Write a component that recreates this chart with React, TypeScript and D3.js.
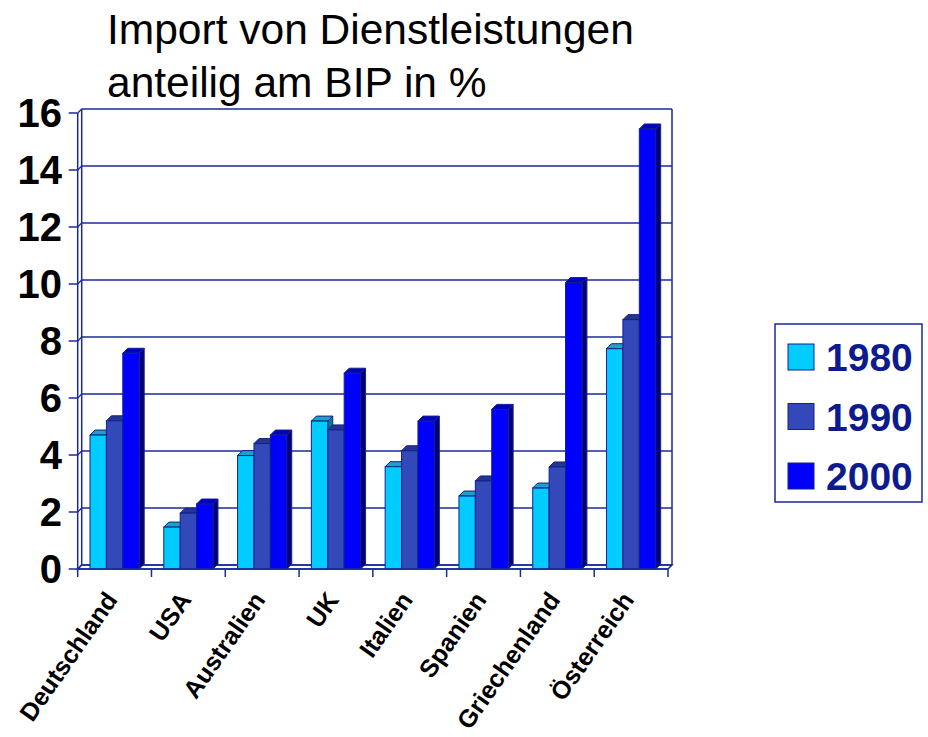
import React from "react";
import * as d3 from "d3";

const categories = ["Deutschland", "USA", "Australien", "UK", "Italien", "Spanien", "Griechenland", "Österreich"];
const years = ["1980", "1990", "2000"];
const values1980 = [4.7, 1.47, 3.98, 5.19, 3.59, 2.56, 2.84, 7.73];
const values1990 = [5.2, 1.96, 4.4, 4.88, 4.15, 3.09, 3.58, 8.75];
const values2000 = [7.57, 2.28, 4.7, 6.87, 5.19, 5.6, 10.05, 15.44];
const yTicks = [0, 2, 4, 6, 8, 10, 12, 14, 16];
const titleLines = ["Import von Dienstleistungen", "anteilig am BIP in %"];

const seriesValues = [values1980, values1990, values2000];
const frontColors = ["#00CCFF", "#3349B9", "#0000FF"];
const topColors = ["#1AA3C8", "#24358F", "#0000C8"];
const sideColors = ["#00799A", "#1A2670", "#00007A"];
const lineColor = "#1a2a9c";
const outline = "#14208a";
const font = "'Liberation Sans', Arial, sans-serif";

export default function App() {
  const W = 928, H = 737;
  const x0 = 77.7, x1 = 668, yBase = 569, yTop = 113;
  const wd = 4; // wall depth
  const bd = 5; // bar depth
  const x = d3.scaleBand<string>().domain(categories).range([x0, x1]).paddingInner(0).paddingOuter(0);
  const xi = d3.scaleBand<string>().domain(years).range([0, x.bandwidth()]).paddingInner(0).paddingOuter(0.75);
  const y = d3.scaleLinear().domain([0, 16]).range([yBase, yTop]);

  const bars: React.ReactNode[] = [];
  categories.forEach((c, ci) => {
    years.forEach((yr, si) => {
      const v = seriesValues[si][ci];
      const bx = (x(c) as number) + (xi(yr) as number);
      const w = xi.bandwidth();
      const ty = y(v);
      const by = y(0);
      const top = `M${bx},${ty} L${bx + w},${ty} L${bx + w + bd},${ty - bd} L${bx + bd},${ty - bd} Z`;
      const side = `M${bx + w},${ty} L${bx + w + bd},${ty - bd} L${bx + w + bd},${by - bd} L${bx + w},${by} Z`;
      bars.push(
        <g key={c + yr}>
          <path d={side} fill={sideColors[si]} stroke={outline} strokeWidth={1} strokeLinejoin="round" />
          <path d={top} fill={topColors[si]} stroke={outline} strokeWidth={1} strokeLinejoin="round" />
          <rect x={bx} y={ty} width={w} height={by - ty} fill={frontColors[si]} stroke={outline} strokeWidth={1} />
        </g>
      );
    });
  });

  return (
    <svg width={W} height={H} style={{ position: "absolute", left: 0, top: 0, background: "#fff" }} fontFamily={font}>
      {/* Title */}
      {titleLines.map((t, i) => (
        <text key={t} x={107} y={44 + i * 53} fontSize={42.5} fill="#000">{t}</text>
      ))}

      {/* Back wall & floor */}
      <rect x={x0 + wd} y={yTop - wd} width={x1 - x0} height={yBase - yTop} fill="#fff" stroke="none" />
      <path d={`M${x0},${yBase} L${x0 + wd},${yBase - wd} L${x1 + wd},${yBase - wd} L${x1},${yBase} Z`} fill="#fff" stroke={lineColor} strokeWidth={1.5} />
      {yTicks.map((t) => (
        <g key={"g" + t}>
          <line x1={x0 + wd} x2={x1 + wd} y1={y(t) - wd} y2={y(t) - wd} stroke={lineColor} strokeWidth={1.5} />
          <line x1={x0} x2={x0 + wd} y1={y(t)} y2={y(t) - wd} stroke={lineColor} strokeWidth={1.2} />
        </g>
      ))}
      <line x1={x0 + wd} x2={x0 + wd} y1={yTop - wd} y2={yBase - wd} stroke={lineColor} strokeWidth={1.5} />
      <line x1={x1 + wd} x2={x1 + wd} y1={yTop - wd} y2={yBase - wd} stroke={lineColor} strokeWidth={1.5} />

      {/* Bars */}
      {bars}

      {/* Front axes */}
      <line x1={x0} x2={x0} y1={yTop} y2={yBase} stroke={lineColor} strokeWidth={1.5} />
      <line x1={x0} x2={x1} y1={yBase} y2={yBase} stroke={lineColor} strokeWidth={1.5} />
      {yTicks.map((t) => (
        <g key={"t" + t}>
          <line x1={x0 - 9} x2={x0} y1={y(t)} y2={y(t)} stroke={lineColor} strokeWidth={1.5} />
          <text x={62} y={y(t) + 14} textAnchor="end" fontSize={40} fontWeight="bold" fill="#000">{t}</text>
        </g>
      ))}
      {[...categories.map((c) => x(c) as number), x1].map((px, i) => (
        <line key={"xt" + i} x1={px} x2={px} y1={yBase} y2={yBase + 8} stroke={lineColor} strokeWidth={1.5} />
      ))}
      {categories.map((c) => {
        const cx = (x(c) as number) + x.bandwidth() / 2 + 4;
        const cy = 600;
        return (
          <text key={"l" + c} x={cx} y={cy} transform={`rotate(-55 ${cx} ${cy})`} textAnchor="end" fontSize={25} fontWeight="bold" fill="#000">{c}</text>
        );
      })}

      {/* Legend */}
      <rect x={775} y={324} width={147} height={178} fill="#fff" stroke={lineColor} strokeWidth={1.5} />
      {years.map((yr, i) => {
        const cy = 357 + i * 59.5;
        return (
          <g key={"lg" + yr}>
            <rect x={788} y={cy - 13} width={26} height={26} fill={frontColors[i]} stroke={outline} strokeWidth={1} />
            <text x={826} y={cy + 14} fontSize={39} fontWeight="bold" fill="#0d1b8e">{yr}</text>
          </g>
        );
      })}
    </svg>
  );
}
